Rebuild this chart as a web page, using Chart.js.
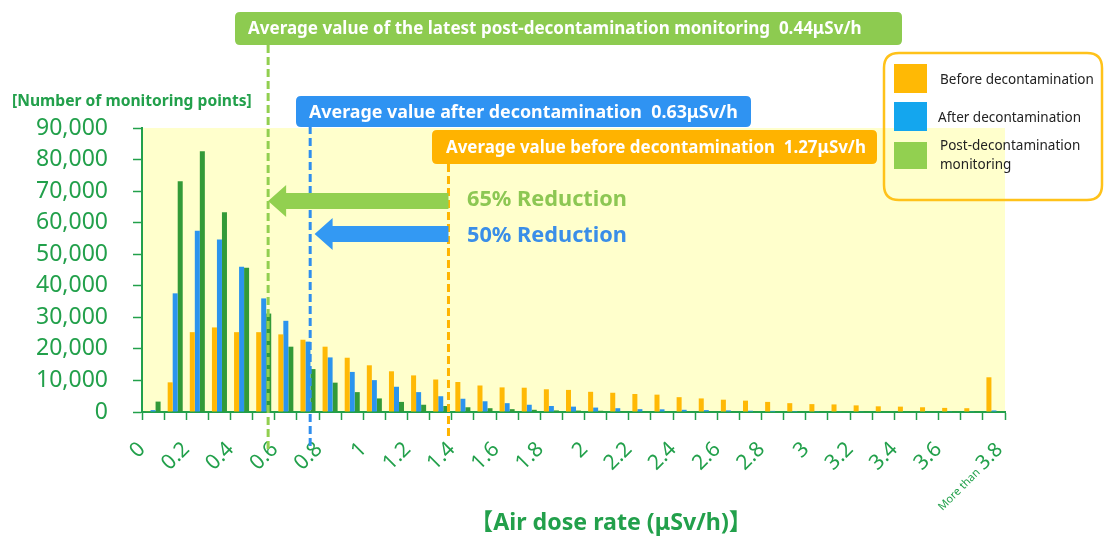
<!DOCTYPE html>
<html>
<head>
<meta charset="utf-8">
<script src="https://cdn.jsdelivr.net/npm/chart.js@4/dist/chart.umd.min.js"></script>
<style>
  html, body { margin: 0; padding: 0; background: #ffffff; }
  #wrap { width: 1105px; height: 538px; position: relative; }
</style>
</head>
<body>
<div id="wrap"><canvas id="c" width="1105" height="538"></canvas></div>
<script>
// ---------------- DATA ----------------
const categories = [
  '0-0.1','0.1-0.2','0.2-0.3','0.3-0.4','0.4-0.5','0.5-0.6','0.6-0.7','0.7-0.8','0.8-0.9','0.9-1.0',
  '1.0-1.1','1.1-1.2','1.2-1.3','1.3-1.4','1.4-1.5','1.5-1.6','1.6-1.7','1.7-1.8','1.8-1.9','1.9-2.0',
  '2.0-2.1','2.1-2.2','2.2-2.3','2.3-2.4','2.4-2.5','2.5-2.6','2.6-2.7','2.7-2.8','2.8-2.9','2.9-3.0',
  '3.0-3.1','3.1-3.2','3.2-3.3','3.3-3.4','3.4-3.5','3.5-3.6','3.6-3.7','3.7-3.8','More than 3.8'
];
const beforeDecon = [200, 9400, 25300, 26800, 25300, 25300, 24600, 22900, 20700, 17200,
  14800, 12900, 11600, 10300, 9500, 8400, 7800, 7700, 7200, 7000,
  6400, 6100, 5700, 5500, 4700, 4300, 3900, 3600, 3200, 2800,
  2500, 2400, 2100, 1800, 1700, 1500, 1300, 1200, 11000];
const afterDecon = [600, 37600, 57400, 54700, 46000, 36000, 28900, 22300, 17300, 12700,
  10100, 8000, 6300, 5000, 4200, 3400, 2800, 2300, 1900, 1700,
  1400, 1200, 900, 850, 700, 600, 500, 400, 350, 300,
  250, 200, 200, 150, 150, 120, 100, 100, 500];
const postMonitoring = [3300, 73100, 82600, 63300, 45700, 31200, 20700, 13600, 9300, 6300,
  4300, 3200, 2300, 1900, 1500, 1200, 900, 700, 500, 450,
  400, 300, 250, 200, 150, 120, 100, 80, 70, 60,
  50, 40, 30, 30, 20, 20, 20, 20, 100];
const seriesNames = ['Before decontamination', 'After decontamination', 'Post-decontamination monitoring'];
const xTickValues = [0, 0.2, 0.4, 0.6, 0.8, 1, 1.2, 1.4, 1.6, 1.8, 2, 2.2, 2.4, 2.6, 2.8, 3, 3.2, 3.4, 3.6];
const xTickLabels = ['0','0.2','0.4','0.6','0.8','1','1.2','1.4','1.6','1.8','2','2.2','2.4','2.6','2.8','3','3.2','3.4','3.6'];
const lastTickValue = 3.85;
const lastTickLabel = ['More than ', '3.8'];
const yMax = 90000;
const yStep = 10000;
// average markers (position on the dose axis as drawn) and their captions
const avgMarkers = [
  { key: 'post',   pos: 0.57, text: 'Average value of the latest post-decontamination monitoring  0.44\u03bcSv/h' },
  { key: 'after',  pos: 0.76, text: 'Average value after decontamination  0.63\u03bcSv/h' },
  { key: 'before', pos: 1.385, text: 'Average value before decontamination  1.27\u03bcSv/h' }
];
const reductions = [
  { key: 'post',  from: 1.385, to: 0.57, text: '65% Reduction' },
  { key: 'after', from: 1.385, to: 0.78, text: '50% Reduction' }
];
const yAxisTitle = '[Number of monitoring points]';
const xAxisTitle = '\u3010Air dose rate (\u03bcSv/h)\u3011';

// ---------------- STYLE ----------------
const FONT = "'Noto Sans', 'Noto Sans CJK JP', sans-serif";
const C = {
  orange: '#FFB905', blue: '#2B94EE', darkGreen: '#339A38', lightGreen: '#92D050',
  axisGreen: '#22A04B', bg: '#FFFFCC',
  boxGreen: '#8DCB50', boxBlue: '#2F93F2', boxOrange: '#FFB300',
  lineGreen: '#92CF50', lineBlue: '#2F8EEE', lineOrange: '#FFB400',
  textGreen: '#8DC753', textBlue: '#3A8EE8', legendBorder: '#FFC21A'
};
const legendSwatch = [C.orange, '#14A6EE', C.lightGreen];

function fitSize(ctx, text, weight, target) {
  ctx.font = weight + ' 100px ' + FONT;
  return 100 * target / ctx.measureText(text).width;
}
function roundRect(ctx, x, y, w, h, r) {
  ctx.beginPath();
  ctx.moveTo(x + r, y);
  ctx.lineTo(x + w - r, y); ctx.quadraticCurveTo(x + w, y, x + w, y + r);
  ctx.lineTo(x + w, y + h - r); ctx.quadraticCurveTo(x + w, y + h, x + w - r, y + h);
  ctx.lineTo(x + r, y + h); ctx.quadraticCurveTo(x, y + h, x, y + h - r);
  ctx.lineTo(x, y + r); ctx.quadraticCurveTo(x, y, x + r, y);
  ctx.closePath();
}

const markerStyle = {
  post:   { color: C.lineGreen, y0: 45,  y1: 450, box: { x: 235, y: 12, w: 667, h: 33, fill: C.boxGreen, tx: 248, tw: 614 } },
  after:  { color: C.lineBlue,  y0: 126, y1: 448, box: { x: 296, y: 96, w: 455, h: 31, fill: C.boxBlue, tx: 309, tw: 429 } },
  before: { color: C.lineOrange,y0: 164, y1: 440, box: { x: 432, y: 130, w: 445, h: 34, fill: C.boxOrange, tx: 446, tw: 420 } }
};
const arrowStyle = {
  post:  { color: C.lightGreen, y: 201, textColor: C.textGreen, ty: 200 },
  after: { color: '#3399F3',    y: 234, textColor: C.textBlue,  ty: 236 }
};

const overlayPlugin = {
  id: 'overlay',
  beforeDraw(chart) {
    const { ctx, chartArea: a } = chart;
    ctx.save();
    ctx.fillStyle = C.bg;
    ctx.fillRect(a.left, a.top, a.right - a.left, a.bottom - a.top);
    ctx.restore();
  },
  afterDraw(chart) {
    const { ctx } = chart;
    const sx = chart.scales.x2;
    ctx.save();
    // dashed average lines
    avgMarkers.forEach(m => {
      const st = markerStyle[m.key];
      const px = sx.getPixelForValue(m.pos);
      ctx.strokeStyle = st.color; ctx.lineWidth = 3; ctx.setLineDash([8, 4]);
      ctx.beginPath(); ctx.moveTo(px, st.y0); ctx.lineTo(px, st.y1); ctx.stroke();
    });
    ctx.setLineDash([]);
    // caption boxes
    avgMarkers.forEach(m => {
      const b = markerStyle[m.key].box;
      ctx.fillStyle = b.fill;
      roundRect(ctx, b.x, b.y, b.w, b.h, 5); ctx.fill();
      const fs = fitSize(ctx, m.text, 'bold', b.tw);
      ctx.font = 'bold ' + fs.toFixed(2) + 'px ' + FONT;
      ctx.fillStyle = '#FFFFFF'; ctx.textAlign = 'left'; ctx.textBaseline = 'middle';
      ctx.fillText(m.text, b.tx, b.y + b.h / 2 + 1);
    });
    // reduction arrows
    reductions.forEach(r => {
      const st = arrowStyle[r.key];
      const x0 = sx.getPixelForValue(r.from), x1 = sx.getPixelForValue(r.to);
      const hh = 8, headH = 16, headL = 18, y = st.y;
      ctx.fillStyle = st.color;
      ctx.beginPath();
      ctx.moveTo(x0, y - hh); ctx.lineTo(x1 + headL, y - hh); ctx.lineTo(x1 + headL, y - headH);
      ctx.lineTo(x1, y); ctx.lineTo(x1 + headL, y + headH); ctx.lineTo(x1 + headL, y + hh);
      ctx.lineTo(x0, y + hh); ctx.closePath(); ctx.fill();
      const fs = fitSize(ctx, r.text, 'bold', 160);
      ctx.font = 'bold ' + fs.toFixed(2) + 'px ' + FONT;
      ctx.fillStyle = st.textColor; ctx.textAlign = 'left'; ctx.textBaseline = 'middle';
      ctx.fillText(r.text, 467, st.ty);
    });
    // legend
    ctx.strokeStyle = C.legendBorder; ctx.lineWidth = 2.5;
    roundRect(ctx, 884, 53, 218, 147, 15); ctx.stroke();
    const sw = [{ y: 64, h: 29 }, { y: 102, h: 29 }, { y: 142, h: 27 }];
    chart.data.datasets.forEach((ds, i) => {
      ctx.fillStyle = legendSwatch[i];
      ctx.fillRect(894, sw[i].y, 33, sw[i].h);
    });
    ctx.fillStyle = '#222222'; ctx.textAlign = 'left'; ctx.textBaseline = 'middle';
    const lfs = fitSize(ctx, seriesNames[0], 'normal', 154);
    ctx.font = lfs.toFixed(2) + 'px ' + FONT;
    ctx.fillText(seriesNames[0], 940, 80);
    ctx.fillText(seriesNames[1], 938, 118);
    const parts = seriesNames[2].split(' ');
    ctx.fillText(parts[0], 940, 146);
    ctx.fillText(parts[1], 940, 165);
    // axis titles
    ctx.fillStyle = C.axisGreen;
    let fs = fitSize(ctx, yAxisTitle, 'bold', 240);
    ctx.font = 'bold ' + fs.toFixed(2) + 'px ' + FONT;
    ctx.fillText(yAxisTitle, 12, 102);
    fs = fitSize(ctx, xAxisTitle, 'bold', 282);
    ctx.font = 'bold ' + fs.toFixed(2) + 'px ' + FONT;
    ctx.fillText(xAxisTitle, 470, 523);
    // last tick label (two sizes)
    const lx = sx.getPixelForValue(lastTickValue);
    const ly = 441;
    ctx.translate(lx, ly); ctx.rotate(-Math.PI / 4);
    ctx.textAlign = 'right'; ctx.textBaseline = 'middle';
    ctx.font = '20px ' + FONT;
    ctx.fillText(lastTickLabel[1], 0, 8);
    const w2 = ctx.measureText(lastTickLabel[1]).width;
    ctx.font = '11px ' + FONT;
    ctx.fillText(lastTickLabel[0], -w2 - 1, 10);
    ctx.restore();
  }
};

new Chart(document.getElementById('c'), {
  type: 'bar',
  data: {
    labels: categories,
    datasets: [
      { label: seriesNames[0], data: beforeDecon, backgroundColor: C.orange },
      { label: seriesNames[1], data: afterDecon, backgroundColor: C.blue },
      { label: seriesNames[2], data: postMonitoring, backgroundColor: C.darkGreen }
    ]
  },
  options: {
    responsive: false,
    animation: false,
    layout: { padding: { left: 0, top: 128, right: 100, bottom: 0 } },
    datasets: { bar: { categoryPercentage: 0.68, barPercentage: 1.0 } },
    plugins: { legend: { display: false }, tooltip: { enabled: false }, title: { display: false } },
    scales: {
      x: {
        type: 'category', position: 'bottom', offset: true, weight: 0,
        grid: { display: true, offset: true, drawOnChartArea: false, drawTicks: true, tickLength: 8, tickColor: C.axisGreen, tickWidth: 1.5, color: C.axisGreen },
        border: { display: true, color: C.axisGreen, width: 2 },
        ticks: { display: false },
        afterFit: s => { s.height = 10; }
      },
      x2: {
        type: 'linear', position: 'bottom', min: 0, max: 3.9, weight: 1, offset: false,
        grid: { display: false, drawTicks: false, offset: false },
        border: { display: false },
        afterBuildTicks: s => { s.ticks = xTickValues.map(v => ({ value: v })); },
        ticks: {
          autoSkip: false, minRotation: 45, maxRotation: 45, padding: 15,
          color: C.axisGreen, font: { family: FONT, size: 21 },
          callback: (v, i) => xTickLabels[i]
        },
        afterFit: s => { s.height = 116; }
      },
      y: {
        type: 'linear', position: 'left', min: 0, max: yMax,
        grid: { drawOnChartArea: false, drawTicks: true, tickLength: 9, tickColor: C.axisGreen, tickWidth: 1.5 },
        border: { display: true, color: C.axisGreen, width: 2 },
        ticks: {
          stepSize: yStep, padding: 25, color: C.axisGreen,
          font: { family: FONT, size: 23 },
          callback: v => v.toLocaleString('en-US')
        },
        afterFit: s => { s.width = 142; }
      }
    }
  },
  plugins: [overlayPlugin]
});
</script>
</body>
</html>
